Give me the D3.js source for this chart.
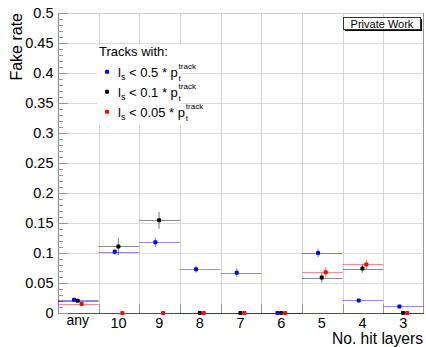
<!DOCTYPE html>
<html><head><meta charset="utf-8">
<script src="https://cdn.jsdelivr.net/npm/d3@7"></script>
<style>body{margin:0;background:#fff}svg{display:block;font-family:"Liberation Sans",Arial,sans-serif}</style>
</head><body>
<script>
const categories = ["any","10","9","8","7","6","5","4","3"];
const blueVals  = [0.022,0.102,0.118,0.073,0.067,0,0.100,0.021,0.011];
const blueErrs  = [0.002,0.005,0.008,0.006,0.007,0,0.007,0.002,0.002];
const blackVals = [0.0205,0.111,0.1545,0,0,0,0.059,0.074,0];
const blackErrs = [0.002,0.0145,0.014,0,0,0,0.0087,0.007,0];
const redVals   = [0.015,0,0,0,0,0,0.068,0.081,0];
const redErrs   = [0.002,0,0,0,0,0,0.0083,0.008,0];
const yTicks = [0,0.05,0.1,0.15,0.2,0.25,0.3,0.35,0.4,0.45,0.5];
const seriesLabels = ["0.5","0.1","0.05"];

const W=426,H=347, L=58,R=424,T=13,B=313;
const svg=d3.select("body").append("svg").attr("width",W).attr("height",H);
const x=d3.scaleBand().domain(categories).range([L,R]);
const y=d3.scaleLinear().domain([0,0.5]).range([B,T]);

// grid
const g=svg.append("g");
g.selectAll(".hg").data(yTicks).enter().append("line")
 .attr("x1",L).attr("x2",R).attr("y1",d=>y(d)+0.5).attr("y2",d=>y(d)+0.5)
 .attr("stroke","#dcdcdc");
g.selectAll(".vg").data(categories.slice(1)).enter().append("line")
 .attr("x1",d=>Math.round(x(d))+0.5).attr("x2",d=>Math.round(x(d))+0.5).attr("y1",T).attr("y2",B)
 .attr("stroke","#d4d4d4");

// frame
svg.append("line").attr("x1",L).attr("x2",R).attr("y1",T+0.5).attr("y2",T+0.5).attr("stroke","#cfcfcf");
svg.append("line").attr("x1",R-0.5).attr("x2",R-0.5).attr("y1",T).attr("y2",B).attr("stroke","#999");
svg.append("line").attr("x1",L+0.5).attr("x2",L+0.5).attr("y1",T).attr("y2",B+1).attr("stroke","#888");
svg.append("line").attr("x1",L).attr("x2",R).attr("y1",B+0.5).attr("y2",B+0.5).attr("stroke","#4b4b8f").attr("stroke-width",1.2);

// y ticks
const minor=d3.range(0,0.5001,0.01);
svg.selectAll(".mt").data(minor).enter().append("line")
 .attr("x1",L).attr("x2",(d,i)=>L+(i%5===0?10:5))
 .attr("y1",d=>Math.round(y(d))+0.5).attr("y2",d=>Math.round(y(d))+0.5).attr("stroke","#999");
svg.selectAll(".yl").data(yTicks).enter().append("text")
 .attr("x",53.5).attr("y",d=>y(d)+5.3).attr("text-anchor","end")
 .attr("font-size",14.5).attr("fill","#000").text(d=>d3.format("")(+d.toFixed(2)));
// x ticks
svg.selectAll(".xt").data(categories.slice(1)).enter().append("line")
 .attr("x1",d=>Math.round(x(d))+0.5).attr("x2",d=>Math.round(x(d))+0.5).attr("y1",B).attr("y2",B-9).attr("stroke","#999");
svg.selectAll(".xl").data(categories).enter().append("text")
 .attr("x",d=>x(d)+x.bandwidth()/2-0.5).attr("y",d=>d==="any"?325:328)
 .attr("text-anchor","middle").attr("font-size",d=>d==="any"?14:14.5).text(d=>d);

// axis titles
svg.append("text").attr("transform","translate(22,13) rotate(-90)").attr("text-anchor","end")
 .attr("font-size",16).text("Fake rate");
svg.append("text").attr("x",423).attr("y",344).attr("text-anchor","end").attr("font-size",15.6).text("No. hit layers");

// data
const series=[
 {vals:blueVals,errs:blueErrs,col:"#0000ff",err:"rgba(0,0,255,0.45)",off:-0.105},
 {vals:blackVals,errs:blackErrs,col:"#000000",err:"rgba(0,0,0,0.45)",off:-0.015},
 {vals:redVals,errs:redErrs,col:"#ff0000",err:"rgba(255,0,0,0.45)",off:0.083}
];
const bw=x.bandwidth();
series.forEach(s=>{
  const d=categories.map((c,i)=>({c,v:s.vals[i],e:s.errs[i]}));
  const gs=svg.append("g");
  gs.selectAll(".h").data(d).enter().append("line")
   .attr("x1",p=>x(p.c)).attr("x2",p=>x(p.c)+bw)
   .attr("y1",p=>Math.round(y(p.v))+0.5).attr("y2",p=>Math.round(y(p.v))+0.5)
   .attr("stroke",s.err).attr("stroke-width",1.2);
  gs.selectAll(".v").data(d.filter(p=>p.e>0)).enter().append("line")
   .attr("x1",p=>x(p.c)+bw*(0.5+s.off)).attr("x2",p=>x(p.c)+bw*(0.5+s.off))
   .attr("y1",p=>y(p.v-p.e)).attr("y2",p=>y(p.v+p.e))
   .attr("stroke",s.err).attr("stroke-width",1.2);
  gs.selectAll(".m").data(d).enter().append("rect")
   .attr("x",p=>x(p.c)+bw*(0.5+s.off)-2).attr("y",p=>y(p.v)-2)
   .attr("width",4).attr("height",4).attr("rx",1).attr("fill",s.col);
});

// legend
svg.append("rect").attr("x",97).attr("y",45).attr("width",84).attr("height",80).attr("fill","#fff");
svg.append("text").attr("x",99).attr("y",55.5).attr("font-size",13).text("Tracks with:");
const lcols=["#0000ff","#000","#ff0000"];
seriesLabels.forEach((lab,i)=>{
  const yy=71.7+20*i;
  svg.append("rect").attr("x",105).attr("y",yy-2).attr("width",4).attr("height",4).attr("rx",1).attr("fill",lcols[i]);
  const t=svg.append("text").attr("x",118).attr("y",yy+5).attr("font-size",13);
  t.append("tspan").text("l");
  t.append("tspan").attr("font-size",9).attr("dy",3).text("s");
  t.append("tspan").attr("dy",-3).text(" < "+lab+" * p");
  const ex=118+t.node().getComputedTextLength()+0.8;
  svg.append("text").attr("x",ex).attr("y",yy-2.4).attr("font-size",8).text("track");
  svg.append("text").attr("x",ex).attr("y",yy+8.8).attr("font-size",8).text("t");
});

// private work box
svg.append("rect").attr("x",345).attr("y",19).attr("width",77).attr("height",12).attr("fill","#000");
svg.append("rect").attr("x",343.5).attr("y",17.5).attr("width",77).attr("height",12).attr("fill","#fff").attr("stroke","#333");
svg.append("text").attr("x",382).attr("y",27.5).attr("text-anchor","middle").attr("font-size",11).text("Private Work");
</script>
</body></html>
